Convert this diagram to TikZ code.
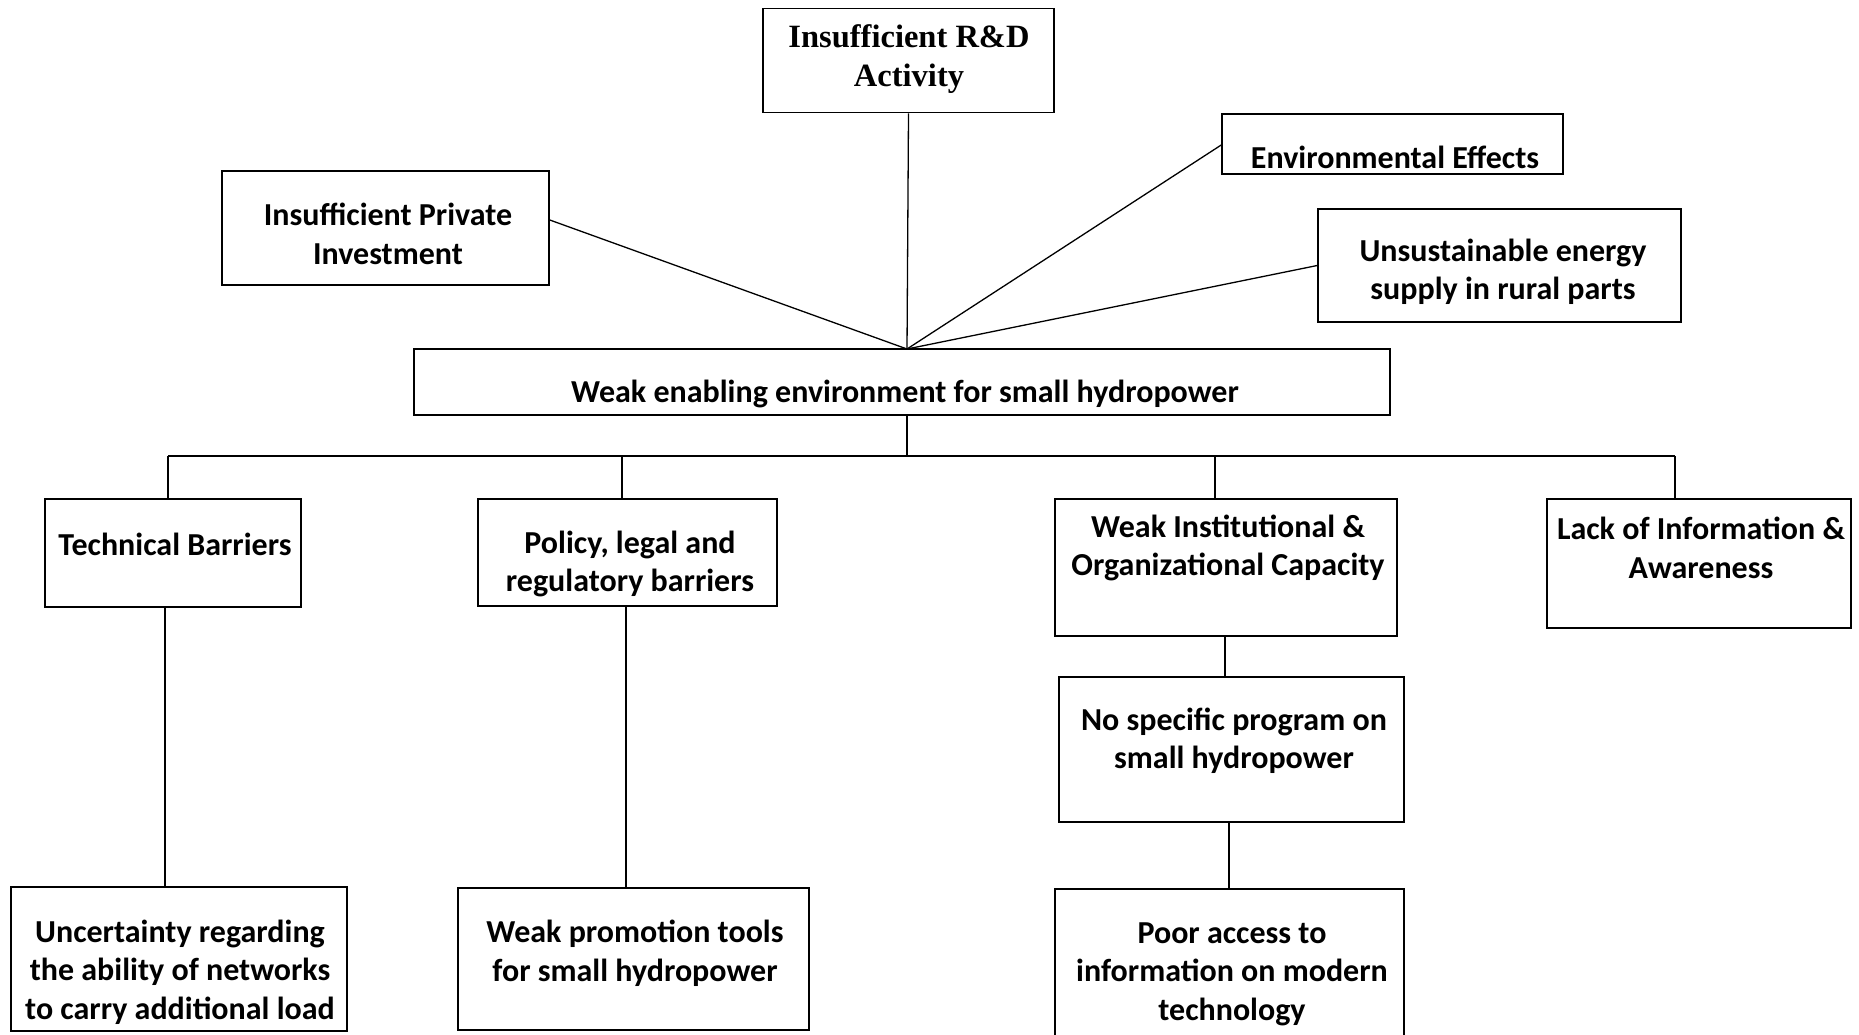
\documentclass[tikz,border=0pt]{standalone}
\usepackage{fontspec}
\setmainfont{Carlito}
\newfontfamily\headserif{Liberation Serif}
\begin{document}
\begin{tikzpicture}[x=1pt,y=-1pt,
  box/.style={draw=black, line width=1.6pt, rectangle, inner sep=0pt},
  txt/.style={align=center, font=\fontsize{32}{38.5}\selectfont\bfseries, inner sep=0pt},
  conn/.style={draw=black, line width=1.3pt}]
\useasboundingbox[fill=white] (0,0) rectangle (1859,1034);

% top level causes
\node[box, minimum width=291, minimum height=104] (rd) at (908.5,60.5) {};
\node[txt, font=\headserif\fontsize{32.5}{38.5}\selectfont\bfseries] (rdt) at (909,59) {Insufficient R\&D\\Activity};
\node[box, minimum width=327, minimum height=114] (pi) at (385.5,228) {};
\node[txt] (pit) at (388,234) {Insufficient Private\\Investment};
\node[box, minimum width=341, minimum height=60] (env) at (1392.5,144) {};
\node[txt] (envt) at (1395,157) {Environmental Effects};
\node[box, minimum width=363, minimum height=113] (us) at (1499.5,265.5) {};
\node[txt] (ust) at (1503,272) {Unsustainable energy\\supply in rural parts};

% central problem
\node[box, minimum width=976, minimum height=66] (weak) at (902,382) {};
\node[txt] (weakt) at (905,394) {Weak enabling environment for small hydropower};

% barrier categories
\node[box, minimum width=256, minimum height=108] (tb) at (173,553) {};
\node[txt] (tbt) at (175,544) {Technical Barriers};
\node[box, minimum width=299, minimum height=107] (pol) at (627.5,552.5) {};
\node[txt] (polt) at (630,564) {Policy, legal and\\regulatory barriers};
\node[box, minimum width=342, minimum height=137] (inst) at (1226,567.5) {};
\node[txt] (instt) at (1228,548) {Weak Institutional \&\\Organizational Capacity};
\node[box, minimum width=304, minimum height=129] (info) at (1699,563.5) {};
\node[txt] (infot) at (1701,548) {Lack of Information \&\\Awareness};

% lower level effects
\node[box, minimum width=345, minimum height=145] (prog) at (1231.5,749.5) {};
\node[txt] (progt) at (1234,741) {No specific program on\\small hydropower};
\node[box, minimum width=349, minimum height=160] (poor) at (1229.5,969) {};
\node[txt] (poort) at (1232,974) {Poor access to\\information on modern\\technology};
\node[box, minimum width=336, minimum height=144] (unc) at (179,959) {};
\node[txt] (unct) at (180,972) {Uncertainty regarding\\the ability of networks\\to carry additional load};
\node[box, minimum width=351, minimum height=142] (prom) at (633.5,959) {};
\node[txt] (promt) at (635,953) {Weak promotion tools\\for small hydropower};

% fan of causes meeting on the central box
\coordinate (J) at (907,349);
\draw[conn] (rd.south) -- (J);
\draw[conn] ([yshift=8]pi.east) -- (J);
\draw[conn] ([yshift=-1]env.west) -- (J);
\draw[conn] (us.west) -- (J);

% distribution bus
\coordinate (bc) at (907,456);
\coordinate (b1) at (168,456);
\coordinate (b2) at (622,456);
\coordinate (b3) at (1215,456);
\coordinate (b4) at (1675,456);
\draw[conn] (weak.south -| bc) -- (bc);
\draw[conn] (b1) -- (b4);
\draw[conn] (b1) -- (b1 |- tb.north);
\draw[conn] (b2) -- (b2 |- pol.north);
\draw[conn] (b3) -- (b3 |- inst.north);
\draw[conn] (b4) -- (b4 |- info.north);

% vertical chains
\coordinate (c1) at (165,0);
\coordinate (c2) at (626,0);
\coordinate (c3) at (1225,0);
\coordinate (c4) at (1229,0);
\draw[conn] (tb.south -| c1) -- (unc.north -| c1);
\draw[conn] (pol.south -| c2) -- (prom.north -| c2);
\draw[conn] (inst.south -| c3) -- (prog.north -| c3);
\draw[conn] (prog.south -| c4) -- (poor.north -| c4);
\end{tikzpicture}
\end{document}
